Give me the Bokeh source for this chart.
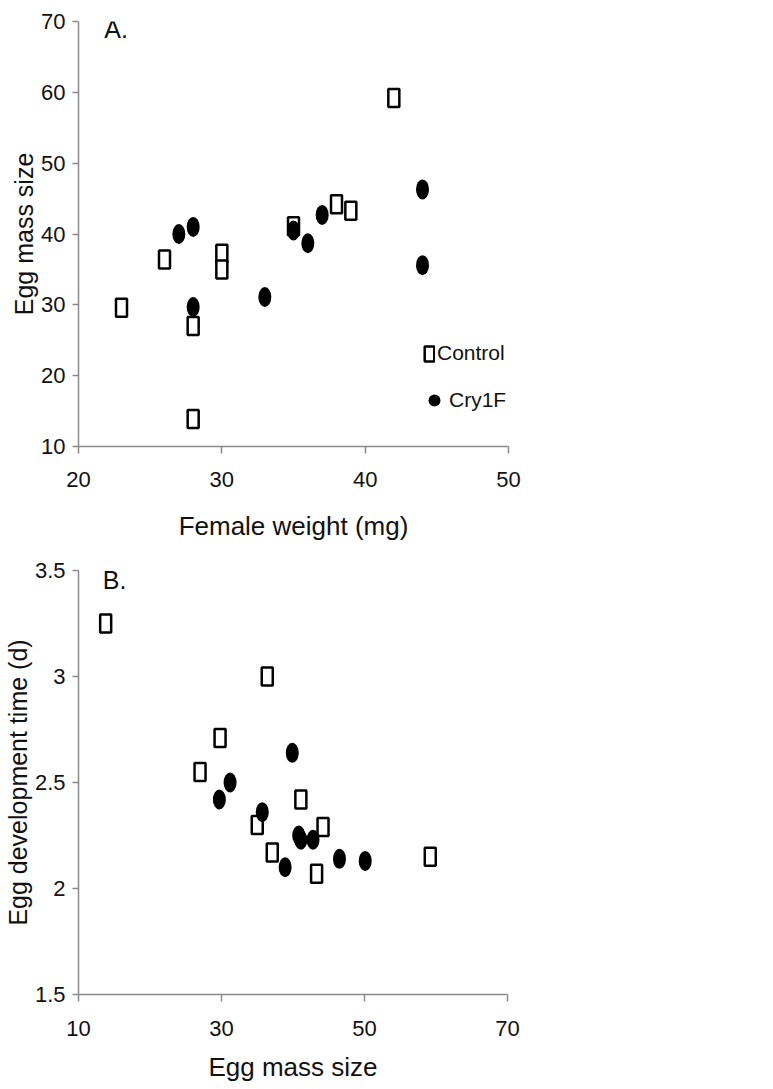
from bokeh.plotting import figure
from bokeh.models import Legend, LegendItem, Label, FixedTicker, ColumnDataSource
from bokeh.layouts import column
from bokeh.embed import file_html
from bokeh.resources import INLINE

# ---------------- data ----------------
# Panel A: female weight (mg) vs egg mass size
a_control_weight = [23, 26, 28, 28, 30, 30, 35, 38, 39, 42]
a_control_mass = [29.6, 36.4, 27.0, 13.9, 37.2, 35.0, 41.1, 44.2, 43.3, 59.2]
a_cry1f_weight = [27, 28, 28, 33, 35, 36, 37, 44, 44]
a_cry1f_mass = [40.0, 41.0, 29.7, 31.1, 40.5, 38.7, 42.7, 46.3, 35.6]

# Panel B: egg mass size vs egg development time (d)
b_control_mass = [13.8, 36.4, 29.8, 27.0, 41.1, 35.0, 44.2, 37.1, 43.3, 59.2]
b_control_time = [3.25, 3.00, 2.71, 2.55, 2.42, 2.30, 2.29, 2.17, 2.07, 2.15]
b_cry1f_mass = [39.9, 31.2, 29.7, 35.7, 40.8, 41.1, 42.8, 46.5, 50.1, 38.9]
b_cry1f_time = [2.64, 2.50, 2.42, 2.36, 2.25, 2.23, 2.23, 2.14, 2.13, 2.10]

series_names = ["Control", "Cry1F"]
a_xticks = [20, 30, 40, 50]
a_yticks = [10, 20, 30, 40, 50, 60, 70]
b_xticks = [10, 30, 50, 70]
b_yticks = [1.5, 2, 2.5, 3, 3.5]
b_ytick_labels = {1.5: "1.5", 2: "2", 2.5: "2.5", 3: "3", 3.5: "3.5"}

FONT = "Liberation Sans"
AXIS_GRAY = "#8a8a8a"
TEXT = "#111111"


def style(p, xlabel, ylabel, xticks, yticks, tick_standoff_x, label_standoff_x):
    p.xgrid.visible = False
    p.ygrid.visible = False
    p.outline_line_color = None
    p.background_fill_color = "white"
    p.border_fill_color = "white"
    for ax in (p.xaxis[0], p.yaxis[0]):
        ax.axis_line_color = AXIS_GRAY
        ax.axis_line_width = 1.5
        ax.major_tick_line_color = AXIS_GRAY
        ax.major_tick_line_width = 1.5
        ax.major_tick_in = 0
        ax.minor_tick_line_color = None
        ax.major_label_text_font = FONT
        ax.major_label_text_font_size = "22px"
        ax.major_label_text_color = TEXT
        ax.axis_label_text_font = FONT
        ax.axis_label_text_font_style = "normal"
        ax.axis_label_text_color = TEXT
    p.xaxis[0].major_tick_out = 7
    p.yaxis[0].major_tick_out = 6
    p.xaxis[0].major_label_standoff = tick_standoff_x
    p.yaxis[0].major_label_standoff = 7
    p.xaxis[0].axis_label = xlabel
    p.yaxis[0].axis_label = ylabel
    p.xaxis[0].axis_label_text_font_size = "26px"
    p.yaxis[0].axis_label_text_font_size = "25px"
    p.xaxis[0].axis_label_standoff = label_standoff_x
    p.yaxis[0].axis_label_standoff = 0
    p.xaxis[0].ticker = FixedTicker(ticks=xticks)
    p.yaxis[0].ticker = FixedTicker(ticks=yticks)


# ---------------- Panel A ----------------
p1 = figure(frame_width=430, frame_height=425, x_range=(20, 50), y_range=(10, 70),
            min_border_left=68, min_border_top=21, min_border_bottom=98, min_border_right=40,
            output_backend="svg", toolbar_location=None)
style(p1, "Female weight (mg)", "Egg mass size", a_xticks, a_yticks, 18, 21)

src_ac = ColumnDataSource(dict(x=a_control_weight, y=a_control_mass))
src_af = ColumnDataSource(dict(x=a_cry1f_weight, y=a_cry1f_mass))
r_ac = p1.rect("x", "y", width=11, height=18, width_units="screen", height_units="screen",
               fill_color="white", line_color="black", line_width=2.5, source=src_ac)
r_af = p1.ellipse("x", "y", width=13, height=20, width_units="screen", height_units="screen",
                  fill_color="black", line_color=None, source=src_af)
# zero-size circle markers on the Cry1F data, used only for the legend icon
r_leg = p1.scatter("x", "y", marker="circle", size=0, fill_color="black", line_color=None,
                   source=src_af)

leg1 = Legend(items=[LegendItem(label=series_names[0], renderers=[r_ac])],
              location=(345, 81), glyph_width=12, glyph_height=19, label_standoff=2,
              padding=0, margin=0, spacing=0, border_line_color=None, background_fill_alpha=0,
              label_text_font=FONT, label_text_font_size="21px", label_text_color=TEXT)
leg2 = Legend(items=[LegendItem(label=series_names[1], renderers=[r_leg])],
              location=(341, 27), glyph_width=30, glyph_height=38, label_standoff=0,
              padding=0, margin=0, spacing=0, border_line_color=None, background_fill_alpha=0,
              label_text_font=FONT, label_text_font_size="21px", label_text_color=TEXT)
p1.add_layout(leg1)
p1.add_layout(leg2)
p1.add_layout(Label(x=21.8, y=69.0, text="A.", text_font=FONT, text_font_size="25px",
                    text_color=TEXT, text_baseline="alphabetic"))

# ---------------- Panel B ----------------
p2 = figure(frame_width=429, frame_height=424, x_range=(10, 70), y_range=(1.5, 3.5),
            min_border_left=70, min_border_top=26, min_border_bottom=94, min_border_right=40,
            output_backend="svg", toolbar_location=None)
style(p2, "Egg mass size", "Egg development time (d)", b_xticks, b_yticks, 19, 13)
p2.yaxis[0].major_label_overrides = b_ytick_labels

src_bc = ColumnDataSource(dict(x=b_control_mass, y=b_control_time))
src_bf = ColumnDataSource(dict(x=b_cry1f_mass, y=b_cry1f_time))
p2.rect("x", "y", width=11, height=18, width_units="screen", height_units="screen",
        fill_color="white", line_color="black", line_width=2.5, source=src_bc)
p2.ellipse("x", "y", width=13, height=20, width_units="screen", height_units="screen",
           fill_color="black", line_color=None, source=src_bf)
p2.add_layout(Label(x=13.4, y=3.453, text="B.", text_font=FONT, text_font_size="25px",
                    text_color=TEXT, text_baseline="alphabetic"))

layout = column(p1, p2, spacing=0)
open("out.html", "w").write(file_html(layout, INLINE))
